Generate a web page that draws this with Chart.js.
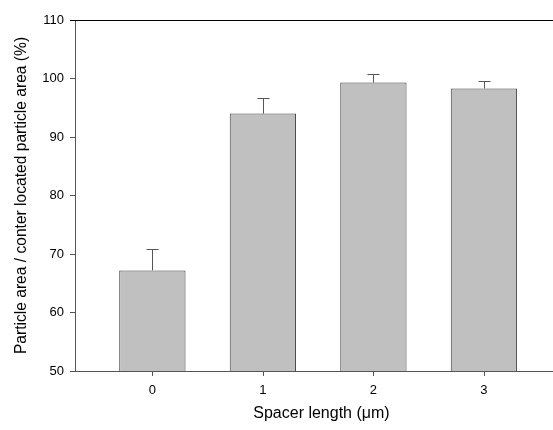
<!DOCTYPE html>
<html lang="en">
<head>
  <meta charset="UTF-8">
  <title>Particle area vs spacer length</title>
  <style>
    body { margin: 0; background: #fff; }
  </style>
</head>
<body>
  <canvas id="graphic" width="553" height="430"></canvas>

  <script src="https://cdn.jsdelivr.net/npm/chart.js"></script>
  <script>
    const spacerLengths = [0, 1, 2, 3];
    const areaMeans = [67.2, 94.0, 99.3, 98.3];
    const areaErrors = [3.6, 2.7, 1.4, 1.3];
    const yTicks = [50, 60, 70, 80, 90, 100, 110];

    const fontFamily = "'Liberation Sans', Arial, sans-serif";

    // error bars (upper only), x tick marks, top frame line, x title
    const extras = {
      id: 'extras',
      afterDatasetsDraw(chart) {
        const ctx = chart.ctx;
        const x = chart.scales.x, y = chart.scales.y;
        const bottom = chart.chartArea.bottom;
        ctx.save();
        ctx.strokeStyle = '#555';
        ctx.lineWidth = 1;
        spacerLengths.forEach((s, i) => {
          const px = Math.round(x.getPixelForValue(s)) + 0.5;
          const top = y.getPixelForValue(areaMeans[i]);
          const cap = Math.round(y.getPixelForValue(areaMeans[i] + areaErrors[i])) + 0.5;
          ctx.beginPath();
          ctx.moveTo(px, top);
          ctx.lineTo(px, cap);
          ctx.moveTo(px - 6, cap);
          ctx.lineTo(px + 6, cap);
          // tick mark under the axis
          ctx.moveTo(px, bottom);
          ctx.lineTo(px, bottom + 5);
          ctx.stroke();
        });
        // top line at 110
        const yt = Math.round(y.getPixelForValue(110)) + 0.5;
        ctx.strokeStyle = '#000';
        ctx.beginPath();
        ctx.moveTo(chart.chartArea.left - 5, yt);
        ctx.lineTo(chart.width, yt);
        ctx.stroke();
        // x axis title
        ctx.fillStyle = '#000';
        ctx.font = '16px ' + fontFamily;
        ctx.textAlign = 'center';
        ctx.textBaseline = 'middle';
        ctx.fillText('Spacer length (\u03bcm)', x.getPixelForValue(1.53), 414);
        ctx.restore();
      }
    };

    new Chart(document.getElementById('graphic'), {
      type: 'bar',
      data: {
        datasets: [{
          data: spacerLengths.map((s, i) => ({ x: s, y: areaMeans[i] })),
          backgroundColor: '#c0c0c0',
          borderColor: '#404040',
          borderWidth: 1,
          barPercentage: 0.6,
          categoryPercentage: 1
        }]
      },
      options: {
        responsive: false,
        animation: false,
        layout: { padding: { top: 20, right: 0, left: 0, bottom: 0 } },
        plugins: {
          legend: { display: false },
          tooltip: { enabled: false }
        },
        scales: {
          x: {
            type: 'linear',
            offset: false,
            min: -0.70,
            max: 3.625,
            afterBuildTicks: axis => { axis.ticks = spacerLengths.map(v => ({ value: v })); },
            afterFit: axis => { axis.height = 59; },
            grid: { offset: false, display: false, drawTicks: false },
            border: { display: true, color: '#555' },
            ticks: { padding: 12, color: '#000', font: { family: fontFamily, size: 13 } }
          },
          y: {
            min: 50,
            max: 110,
            afterBuildTicks: axis => { axis.ticks = yTicks.map(v => ({ value: v })); },
            afterFit: axis => { axis.width = 75; },
            grid: { drawOnChartArea: false, drawTicks: true, tickLength: 5, color: '#555' },
            border: { display: true, color: '#555' },
            ticks: { padding: 6, color: '#000', font: { family: fontFamily, size: 13 } },
            title: {
              display: true,
              text: 'Particle area / conter located particle area (%)',
              color: '#000',
              font: { family: fontFamily, size: 15.6 },
              padding: { top: 12, bottom: 0 }
            }
          }
        }
      },
      plugins: [extras]
    });
  </script>
</body>
</html>
